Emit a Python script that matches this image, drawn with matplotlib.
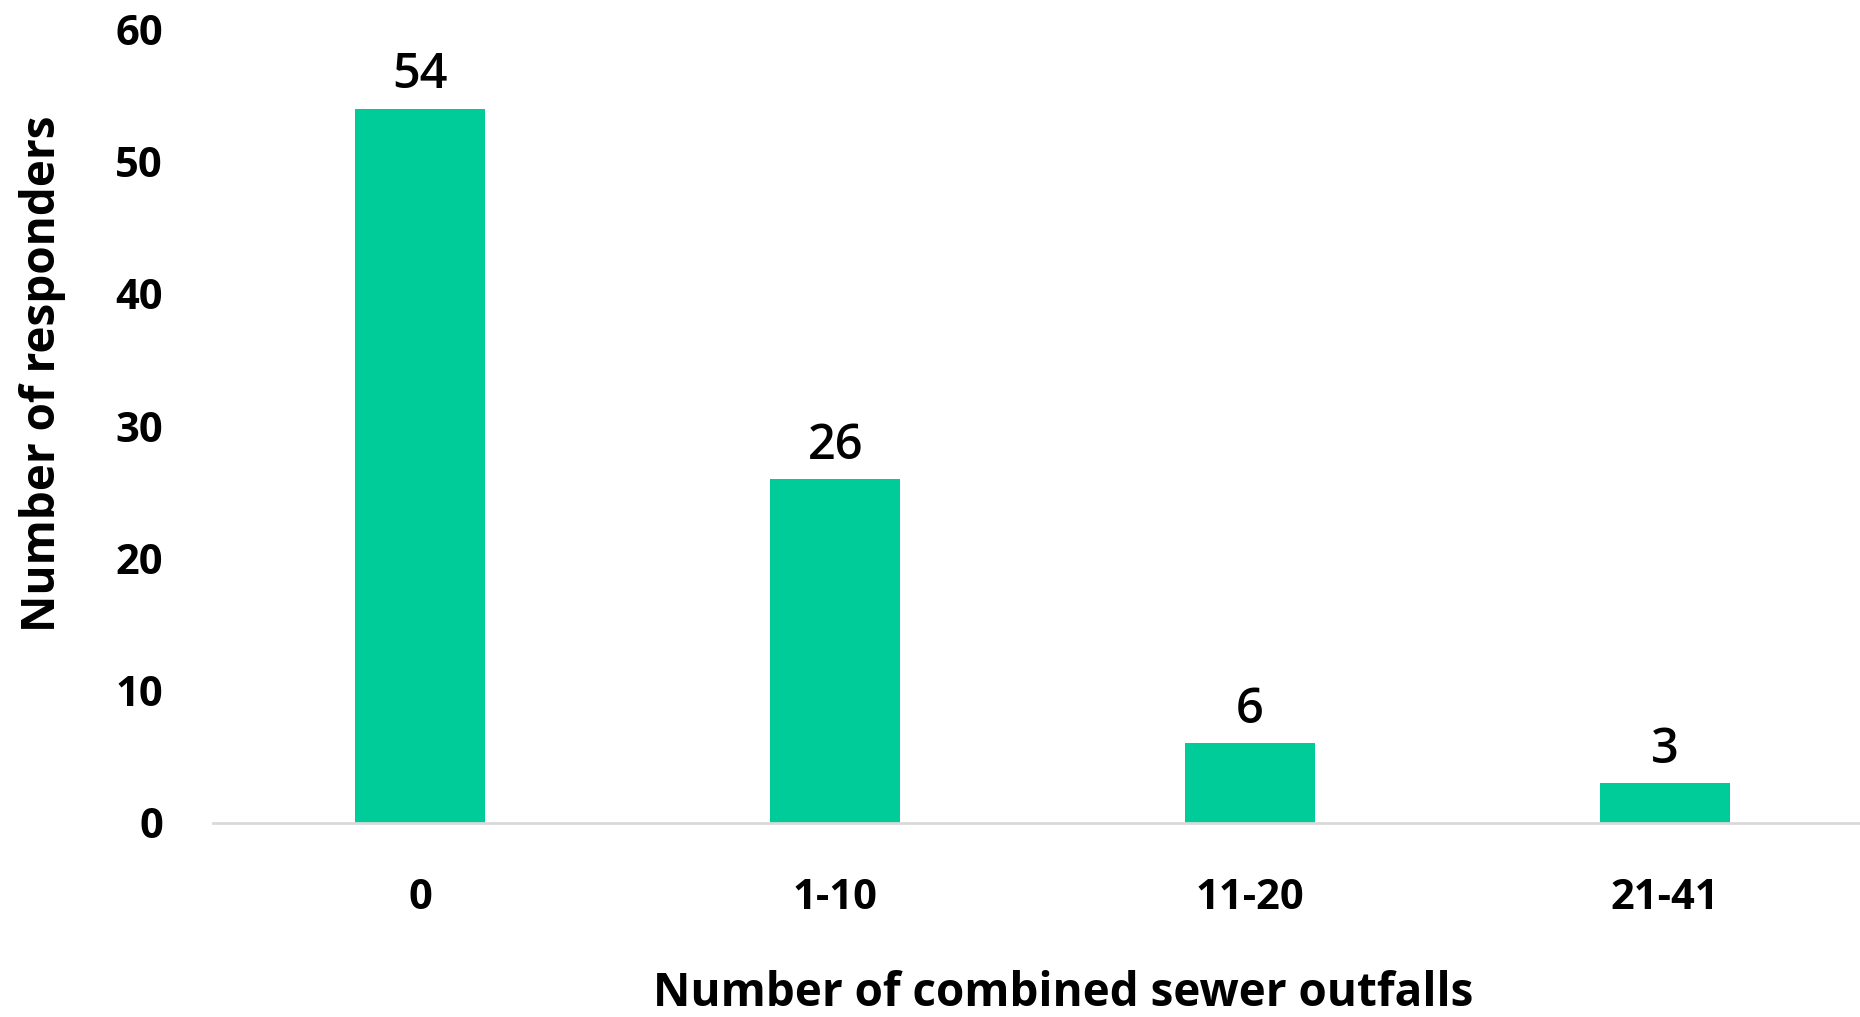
import matplotlib
matplotlib.use("Agg")
import matplotlib.pyplot as plt

categories = ["0", "1-10", "11-20", "21-41"]
values = [54, 26, 6, 3]
yticks = [0, 10, 20, 30, 40, 50, 60]

plt.rcParams['font.family'] = ['Open Sans', 'DejaVu Sans']

fig = plt.figure(figsize=(18.6, 10.17), dpi=100)
ax = fig.add_axes([0.1145, 0.191, 0.8855, 0.780])

x = list(range(len(categories)))
bars = ax.bar(x, values, width=0.313, color="#00CC99", zorder=2)

ax.set_xlim(-0.5, 3.47)
ax.set_ylim(0, 60)
ax.set_yticks(yticks)
ax.set_yticklabels([str(t) for t in yticks])
ax.set_xticks(x)
ax.set_xticklabels(categories)

for s in ["top", "right", "left"]:
    ax.spines[s].set_visible(False)
ax.spines["bottom"].set_color("#D9D9D9")
ax.spines["bottom"].set_linewidth(2)

ax.tick_params(axis="both", length=0)
ax.tick_params(axis="x", pad=40, labelsize=30)
ax.tick_params(axis="y", pad=36, labelsize=30)
for lbl in ax.get_xticklabels() + ax.get_yticklabels():
    lbl.set_fontweight("bold")

for xi, v in zip(x, values):
    ax.annotate(str(v), (xi, v), xytext=(0, 6), textcoords="offset points",
                ha="center", va="bottom", fontsize=35, fontweight="semibold")

ax.set_ylabel("Number of responders", fontsize=33, fontweight="bold")
ax.set_xlabel("Number of combined sewer outfalls", fontsize=33, fontweight="bold")
ax.yaxis.set_label_coords(-0.089, 0.566)
ax.xaxis.set_label_coords(0.516, -0.185)

fig.savefig("out.png", dpi=100)
